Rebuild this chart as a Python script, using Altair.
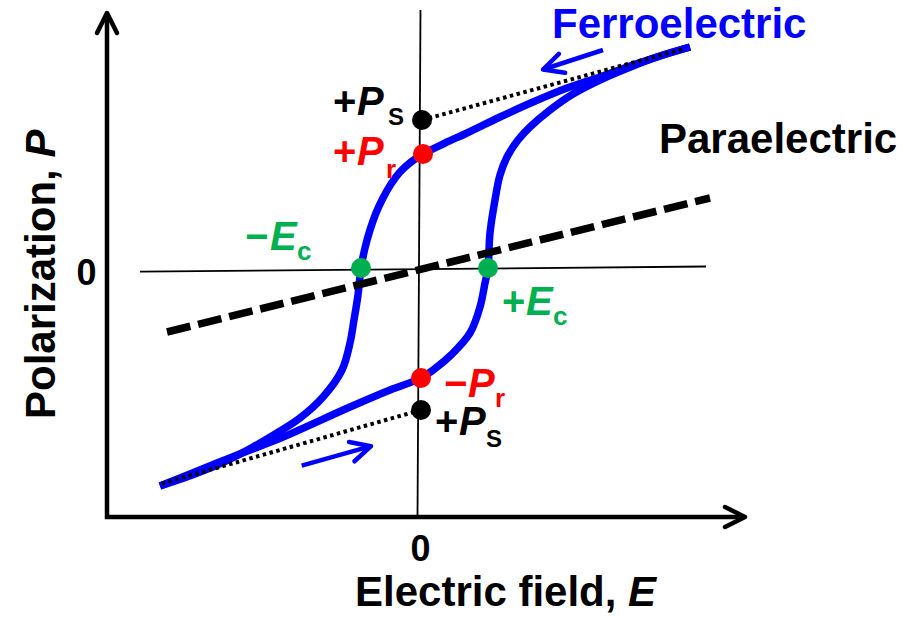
import math
import altair as alt
import pandas as pd

# ---------------------------------------------------------------------------
# Data: electric field E and polarization P, in arbitrary units
# ---------------------------------------------------------------------------

# Ferroelectric loop, descending branch (from +saturation down to -saturation)
down_E = [2.71, 2.41, 2.14, 1.81, 1.48, 1.14, 0.81, 0.48, 0.26, 0.04, -0.08, -0.19,
          -0.28, -0.36, -0.43, -0.49, -0.54, -0.58, -0.61, -0.65, -0.69, -0.77, -0.96,
          -1.19, -1.42, -1.66, -1.91, -2.19, -2.59]
down_P = [2.22, 2.13, 2.04, 1.92, 1.81, 1.67, 1.52, 1.36, 1.26, 1.15, 1.07, 0.97,
          0.85, 0.71, 0.56, 0.39, 0.21, 0.01, -0.26, -0.51, -0.74, -1.01, -1.28,
          -1.49, -1.64, -1.78, -1.91, -2.03, -2.17]

# Ferroelectric loop, ascending branch (from -saturation up to +saturation)
up_E = [-2.59, -2.02, -1.69, -1.36, -0.69, -0.29, 0.02, 0.18, 0.32, 0.51, 0.61, 0.66,
        0.69, 0.71, 0.76, 0.81, 0.88, 0.99, 1.11, 1.31, 1.54, 1.81, 2.14, 2.41, 2.71]
up_P = [-2.17, -1.94, -1.81, -1.68, -1.38, -1.21, -1.09, -0.98, -0.86, -0.64, -0.38, -0.14,
        0.01, 0.36, 0.69, 0.94, 1.12, 1.29, 1.42, 1.59, 1.75, 1.89, 2.03, 2.13, 2.22]

# Paraelectric (linear) response
para_E = [-2.52, 2.91]
para_P = [-0.63, 0.71]

# Saturation tangents extrapolated back to E = 0
sat_hi_E = [0.03, 2.64]
sat_hi_P = [1.49, 2.20]
sat_lo_E = [0.02, -2.59]
sat_lo_P = [-1.41, -2.15]

# Characteristic points on the loop
key_names = ["+Ps", "+Pr", "-Ec", "+Ec", "-Pr", "Ps_low"]
key_E = [0.03, 0.04, -0.58, 0.69, 0.02, 0.02]
key_P = [1.49, 1.15, 0.01, 0.01, -1.09, -1.41]

# Sweep-direction arrows (tail -> head)
sweep_hi_E = [1.84, 1.24]
sweep_hi_P = [2.19, 1.995]
sweep_lo_E = [-1.173, -0.48]
sweep_lo_P = [-1.967, -1.772]

# Outer frame (axes) and zero lines
E_ORIGIN, P_ORIGIN = -3.12, -2.48
E_AXIS_END, P_AXIS_END = 3.255, 2.555
zero_h_E = [-2.79, 2.87]
zero_h_P = [-0.027, 0.025]
zero_v_E = [0.015, -0.015]
zero_v_P = [2.59, -2.48]

# ---------------------------------------------------------------------------
# Layout / style
# ---------------------------------------------------------------------------
W, H = 915, 622
E_DOMAIN = [-4.19, 4.96]
P_DOMAIN = [-3.53, 2.69]
FONT = "Liberation Sans"
BLUE, RED, GREEN, BLACK = "#0000FF", "#FF0000", "#00B050", "#000000"
BIG, MID, SUB, SUB_S, TICK = 42, 40, 26, 24, 36
MINUS = "\u2212"

kx = W / (E_DOMAIN[1] - E_DOMAIN[0])
ky = H / (P_DOMAIN[1] - P_DOMAIN[0])


def screen_angle(e0, p0, e1, p1):
    """Clockwise screen angle (deg) of the segment (e0,p0)->(e1,p1)."""
    a = math.degrees(math.atan2(-(p1 - p0) * ky, (e1 - e0) * kx))
    return a % 360


xs = alt.Scale(domain=E_DOMAIN, nice=False, zero=False)
ys = alt.Scale(domain=P_DOMAIN, nice=False, zero=False)
X = alt.X("E:Q", scale=xs, axis=None)
Y = alt.Y("P:Q", scale=ys, axis=None)

# ---------------------------------------------------------------------------
# Tables
# ---------------------------------------------------------------------------
loop = pd.DataFrame({
    "E": down_E + up_E,
    "P": down_P + up_P,
    "branch": ["down"] * len(down_E) + ["up"] * len(up_E),
    "i": list(range(len(down_E))) + list(range(len(up_E))),
})

para = pd.DataFrame({"E": para_E, "P": para_P, "i": [0, 1]})

sat = pd.DataFrame({
    "E": sat_hi_E + sat_lo_E,
    "P": sat_hi_P + sat_lo_P,
    "seg": ["hi", "hi", "lo", "lo"],
    "i": [0, 1, 0, 1],
})

zero = pd.DataFrame({
    "E": zero_h_E + zero_v_E,
    "P": zero_h_P + zero_v_P,
    "seg": ["h", "h", "v", "v"],
    "i": [0, 1, 0, 1],
})

frame = pd.DataFrame({
    "E": [E_ORIGIN, E_ORIGIN, E_AXIS_END],
    "P": [P_AXIS_END, P_ORIGIN, P_ORIGIN],
    "i": [0, 1, 2],
})

sweep = pd.DataFrame({
    "E": sweep_hi_E + sweep_lo_E,
    "P": sweep_hi_P + sweep_lo_P,
    "seg": ["hi", "hi", "lo", "lo"],
    "i": [0, 1, 0, 1],
})

heads = pd.DataFrame({
    "E": [E_ORIGIN, E_AXIS_END + 0.005, sweep_hi_E[1], sweep_lo_E[1]],
    "P": [P_AXIS_END + 0.005, P_ORIGIN, sweep_hi_P[1], sweep_lo_P[1]],
    "ang": [270, 0,
            screen_angle(sweep_hi_E[0], sweep_hi_P[0], sweep_hi_E[1], sweep_hi_P[1]),
            screen_angle(sweep_lo_E[0], sweep_lo_P[0], sweep_lo_E[1], sweep_lo_P[1])],
    "col": [BLACK, BLACK, BLUE, BLUE],
})

key_colors = [BLACK, RED, GREEN, GREEN, RED, BLACK]
keys = pd.DataFrame({"name": key_names, "E": key_E, "P": key_P, "col": key_colors})

# Text pieces: text, anchor (E, P), colour, font size, italic, rotation
pieces = [
    ("Ferroelectric", 1.33, 2.31, BLUE, BIG, False, 0),
    ("Paraelectric", 2.40, 1.16, BLACK, BIG, False, 0),
    # tick labels
    ("0", -0.085, -2.92, BLACK, TICK, False, 0),
    ("0", -3.425, -0.16, BLACK, TICK, False, 0),
    # axis titles
    ("Electric field,", -0.64, -3.37, BLACK, BIG, False, 0),
    ("E", 2.09, -3.37, BLACK, BIG, True, 0),
    ("Polarization,", -3.64, -1.50, BLACK, BIG, False, 270),
    ("P", -3.64, 1.114, BLACK, BIG, True, 270),
    # +P_S (upper)
    ("+", -0.86, 1.54, BLACK, MID, False, 0),
    ("P", -0.62, 1.54, BLACK, MID, True, 0),
    ("S", -0.31, 1.44, BLACK, SUB_S, False, 0),
    # +P_r
    ("+", -0.86, 1.04, RED, MID, False, 0),
    ("P", -0.62, 1.04, RED, MID, True, 0),
    ("r", -0.33, 0.91, RED, SUB, False, 0),
    # -E_c
    (MINUS, -1.74, 0.19, GREEN, MID, False, 0),
    ("E", -1.49, 0.19, GREEN, MID, True, 0),
    ("c", -1.22, 0.09, GREEN, SUB, False, 0),
    # +E_c
    ("+", 0.83, -0.46, GREEN, MID, False, 0),
    ("E", 1.07, -0.46, GREEN, MID, True, 0),
    ("c", 1.34, -0.56, GREEN, SUB, False, 0),
    # -P_r
    (MINUS, 0.25, -1.28, RED, MID, False, 0),
    ("P", 0.49, -1.28, RED, MID, True, 0),
    ("r", 0.76, -1.38, RED, SUB, False, 0),
    # +P_S (lower)
    ("+", 0.16, -1.66, BLACK, MID, False, 0),
    ("P", 0.40, -1.66, BLACK, MID, True, 0),
    ("S", 0.67, -1.78, BLACK, SUB_S, False, 0),
]
labels = pd.DataFrame(pieces, columns=["t", "E", "P", "col", "fs", "italic", "rot"])

# ---------------------------------------------------------------------------
# Layers
# ---------------------------------------------------------------------------
CHEVRON = "M -1 -0.5 L 0 0 L -1 0.5"

zero_lines = alt.Chart(zero).mark_line(color=BLACK, strokeWidth=1.8).encode(
    x=X, y=Y, detail="seg:N", order="i:Q")

frame_line = alt.Chart(frame).mark_line(
    color=BLACK, strokeWidth=4.5, strokeJoin="miter", strokeCap="butt").encode(
    x=X, y=Y, order="i:Q")

loop_line = alt.Chart(loop).mark_line(
    color=BLUE, strokeWidth=7.5, interpolate="catmull-rom", strokeCap="butt",
    strokeJoin="round").encode(x=X, y=Y, detail="branch:N", order="i:Q")

para_line = alt.Chart(para).mark_line(
    color=BLACK, strokeWidth=7.5, strokeDash=[24, 8], strokeCap="butt").encode(
    x=X, y=Y, order="i:Q")

sat_lines = alt.Chart(sat).mark_line(
    color=BLACK, strokeWidth=4, strokeDash=[3.5, 3.5], strokeCap="butt").encode(
    x=X, y=Y, detail="seg:N", order="i:Q")

sweep_lines = alt.Chart(sweep).mark_line(
    color=BLUE, strokeWidth=4.5, strokeCap="butt").encode(
    x=X, y=Y, detail="seg:N", order="i:Q")

arrow_heads = alt.Chart(heads).mark_point(
    shape=CHEVRON, filled=False, size=1600, strokeWidth=4.5, opacity=1,
    strokeJoin="round", strokeCap="round").encode(
    x=X, y=Y,
    angle=alt.Angle("ang:Q", scale=None),
    color=alt.Color("col:N", scale=None))

key_dots = alt.Chart(keys).mark_circle(size=400, opacity=1).encode(
    x=X, y=Y, color=alt.Color("col:N", scale=None))


def text_layer(italic):
    return alt.Chart(labels).transform_filter(
        alt.datum.italic == italic
    ).mark_text(
        font=FONT, fontWeight="bold", fontStyle="italic" if italic else "normal",
        align="left", baseline="alphabetic"
    ).encode(
        x=X, y=Y, text="t:N",
        color=alt.Color("col:N", scale=None),
        size=alt.Size("fs:Q", scale=None),
        angle=alt.Angle("rot:Q", scale=None),
    )


chart = alt.layer(
    zero_lines, frame_line, loop_line, para_line, sat_lines, sweep_lines,
    arrow_heads, key_dots, text_layer(False), text_layer(True)
).properties(
    width=W, height=H,
    autosize=alt.AutoSizeParams(type="none"),
    padding=0,
    background="white",
).configure_view(stroke=None)

chart.save("out.html", embed_options={"renderer": "svg", "actions": False})
